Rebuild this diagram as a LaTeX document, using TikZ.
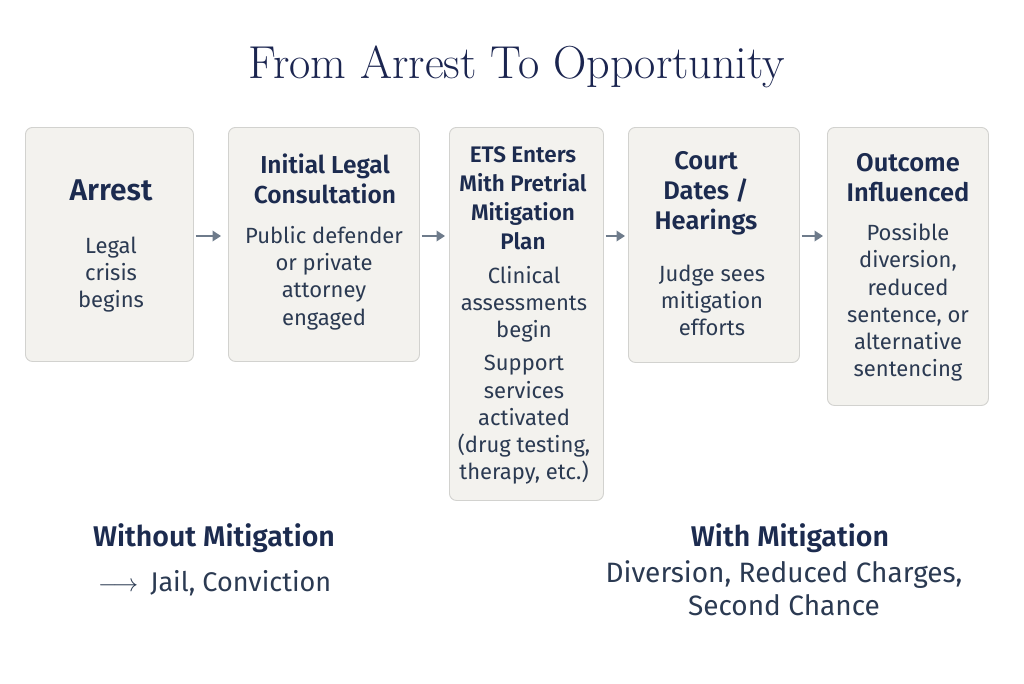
\documentclass[tikz,border=0pt]{standalone}
\usepackage{fontspec}
\newfontfamily\plex{Fira Sans}[BoldFont={Fira Sans SemiBold}]
\definecolor{boxfill}{HTML}{F3F2EE}
\definecolor{boxline}{HTML}{D2D2CF}
\definecolor{navy}{HTML}{1B2550}
\definecolor{headc}{HTML}{1C2B4F}
\definecolor{bodyc}{HTML}{2B3A52}
\definecolor{arrc}{HTML}{6E7B8B}
\usetikzlibrary{arrows.meta,calc}
\tikzset{
  stepbox/.style={draw=boxline, fill=boxfill, rounded corners=7pt, line width=0.9pt, anchor=north west, inner sep=0pt},
  head/.style={align=center, text=headc, font=\plex\bfseries\fontsize{25.5}{30}\selectfont, inner sep=0pt},
  headsm/.style={align=center, text=headc, font=\plex\bfseries\fontsize{22.5}{29}\selectfont, inner sep=0pt},
  body/.style={align=center, text=bodyc, font=\plex\fontsize{22}{27.2}\selectfont, inner sep=0pt},
  flow/.style={draw=arrc, line width=2pt, -{Triangle[length=8.5pt,width=10.5pt]}},
}
\begin{document}
\begin{tikzpicture}[x=1pt,y=-1pt]
\useasboundingbox (0,0) rectangle (1024,683);
\fill[white] (0,0) rectangle (1024,683);
\node[text=navy, font=\fontsize{46.2}{52}\selectfont, inner sep=0pt] (title) at (517,67) {From Arrest To Opportunity};

\node[stepbox, minimum width=168pt, minimum height=234pt] (b1) at (25,127) {};
\node[stepbox, minimum width=191pt, minimum height=234pt] (b2) at (228,127) {};
\node[stepbox, minimum width=154pt, minimum height=373pt] (b3) at (449,127) {};
\node[stepbox, minimum width=171pt, minimum height=235pt] (b4) at (628,127) {};
\node[stepbox, minimum width=161pt, minimum height=278pt] (b5) at (827,127) {};

\node[head, font=\plex\bfseries\fontsize{30}{34}\selectfont] (t1) at (111,190) {Arrest};
\node[body] (d1) at (111,274.5) {Legal\\crisis\\begins};

\node[head, font=\plex\bfseries\fontsize{24.5}{30}\selectfont] (t2) at (325,179) {Initial Legal\\Consultation};
\node[body] (d2) at (324,278) {Public defender\\or private\\attorney\\engaged};

\node[headsm] (t3) at (523,198.5) {ETS Enters\\Mith Pretrial\\Mitigation\\Plan};
\node[body] (d3) at (524,304) {Clinical\\assessments\\begin};
\node[body] (e3) at (524,420) {Support\\services\\activated\\(drug testing,\\therapy, etc.)};

\node[head] (t4) at (706,193.5) {Court\\Dates /\\Hearings};
\node[body] (d4) at (712,300.5) {Judge sees\\mitigation\\efforts};

\node[head] (t5) at (908,178) {Outcome\\Influenced};
\node[body] (d5) at (908,302.5) {Possible\\diversion,\\reduced\\sentence, or\\alternative\\sentencing};

\draw[flow] ($(b1.north east)+(2,109)$) -- ($(b2.north west)+(-7,109)$);
\draw[flow] ($(b2.north east)+(2,109)$) -- ($(b3.north west)+(-4,109)$);
\draw[flow] ($(b3.north east)+(2,109)$) -- ($(b4.north west)+(-3,109)$);
\draw[flow] ($(b4.north east)+(2,109)$) -- ($(b5.north west)+(-4,109)$);

\node[head, font=\plex\bfseries\fontsize{28.5}{32}\selectfont] (wo) at (214,538) {Without Mitigation};
\node[body, font=\plex\fontsize{27}{32}\selectfont, anchor=west] (wor) at (98,583) {$\longrightarrow$\hspace{12pt}Jail, Conviction};

\node[head, font=\plex\bfseries\fontsize{28.5}{32}\selectfont] (wi) at (790,538) {With Mitigation};
\node[body, font=\plex\fontsize{28}{32.5}\selectfont] (wir) at (784,588) {Diversion, Reduced Charges,\\Second Chance};
\end{tikzpicture}
\end{document}
